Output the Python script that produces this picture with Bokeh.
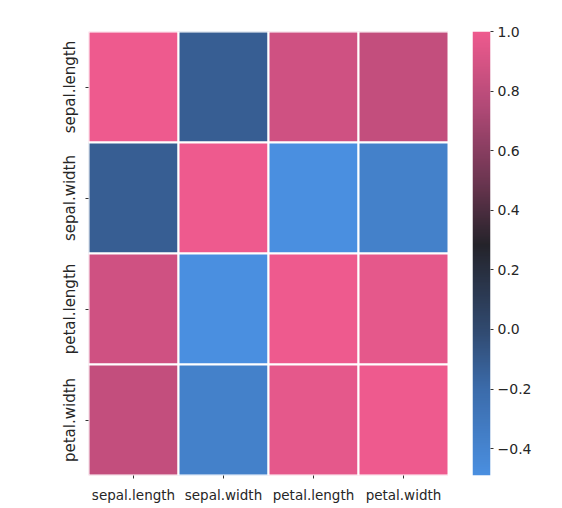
import numpy as np
from bokeh.plotting import figure
from bokeh.layouts import row
from bokeh.models import ColumnDataSource, LinearColorMapper, FixedTicker, CustomJSTickFormatter
from bokeh.embed import file_html
from bokeh.resources import INLINE

# ---- data ----
variables = ["sepal.length", "sepal.width", "petal.length", "petal.width"]
row_sepal_length = [1.00, -0.12, 0.87, 0.82]
row_sepal_width = [-0.12, 1.00, -0.49, -0.37]
row_petal_length = [0.87, -0.49, 1.00, 0.96]
row_petal_width = [0.82, -0.37, 0.96, 1.00]
color_low = -0.49
color_high = 1.0
cbar_ticks = [-0.4, -0.2, 0.0, 0.2, 0.4, 0.6, 0.8, 1.0]

rows = [row_sepal_length, row_sepal_width, row_petal_length, row_petal_width]
xs, ys, vals = [], [], []
for rname, rvals in zip(variables, rows):
    for cname, v in zip(variables, rvals):
        xs.append(cname)
        ys.append(rname)
        vals.append(v)
src = ColumnDataSource(dict(x=xs, y=ys, v=vals))

# ---- palette (blue -> dark -> pink) ----
anchors_t = [0.0, 0.195, 0.33, 0.52, 0.66, 0.83, 1.0]
anchors_c = ["#4A8FE0", "#3B6BAA", "#30496E", "#24232A", "#6A3550", "#B04976", "#EE5A8E"]
def hex2rgb(h):
    h = h.lstrip("#")
    return [int(h[i:i + 2], 16) for i in (0, 2, 4)]
arr = np.array([hex2rgb(c) for c in anchors_c], dtype=float)
palette = []
for t in np.linspace(0, 1, 256):
    r = np.interp(t, anchors_t, arr[:, 0])
    g = np.interp(t, anchors_t, arr[:, 1])
    b = np.interp(t, anchors_t, arr[:, 2])
    palette.append("#%02x%02x%02x" % (int(round(r)), int(round(g)), int(round(b))))

mapper = LinearColorMapper(palette=palette, low=color_low, high=color_high)

H = 507
TOP = 31
BOTTOM = 32

p = figure(width=448, height=H, x_range=variables, y_range=list(reversed(variables)),
           output_backend="svg", toolbar_location=None, tools="",
           min_border_left=88, min_border_top=TOP, min_border_bottom=BOTTOM, min_border_right=0)
p.rect(x="x", y="y", width=1, height=1, source=src,
       fill_color={"field": "v", "transform": mapper},
       line_color="white", line_width=2)

p.outline_line_color = None
p.grid.grid_line_color = None
for ax in (p.xaxis, p.yaxis):
    ax.axis_line_color = None
    ax.major_tick_line_color = "#333333"
    ax.major_tick_out = 3
    ax.major_tick_in = 0
    ax.minor_tick_line_color = None
    ax.major_label_text_font = "DejaVu Sans"
    ax.major_label_text_color = "#262626"
p.xaxis.major_label_text_font_size = "13.5px"
p.xaxis.major_label_standoff = 8
p.yaxis.major_label_text_font_size = "15px"
p.yaxis.major_label_standoff = 7
p.yaxis.major_label_orientation = "vertical"

# ---- colour bar as its own small figure ----
cb = figure(width=92, height=H, x_range=(0, 1), y_range=(color_low, color_high),
            output_backend="svg", toolbar_location=None, tools="", y_axis_location="right",
            min_border_left=24, min_border_right=50, min_border_top=TOP, min_border_bottom=BOTTOM)
grad = np.linspace(color_low, color_high, 256).reshape(256, 1)
cb.image(image=[grad], x=0, y=color_low, dw=1, dh=color_high - color_low, color_mapper=mapper)
cb.xaxis.visible = False
cb.grid.grid_line_color = None
cb.outline_line_color = None
cb.yaxis.ticker = FixedTicker(ticks=cbar_ticks)
cb.yaxis.formatter = CustomJSTickFormatter(code="return tick.toFixed(1).replace('-', '\u2212');")
cb.yaxis.axis_line_color = None
cb.yaxis.major_tick_line_color = "#333333"
cb.yaxis.major_tick_out = 3
cb.yaxis.major_tick_in = 0
cb.yaxis.minor_tick_line_color = None
cb.yaxis.major_label_text_font = "DejaVu Sans"
cb.yaxis.major_label_text_font_size = "14px"
cb.yaxis.major_label_text_color = "#262626"
cb.yaxis.major_label_standoff = 4

layout = row(p, cb)
open("out.html", "w").write(file_html(layout, INLINE))
